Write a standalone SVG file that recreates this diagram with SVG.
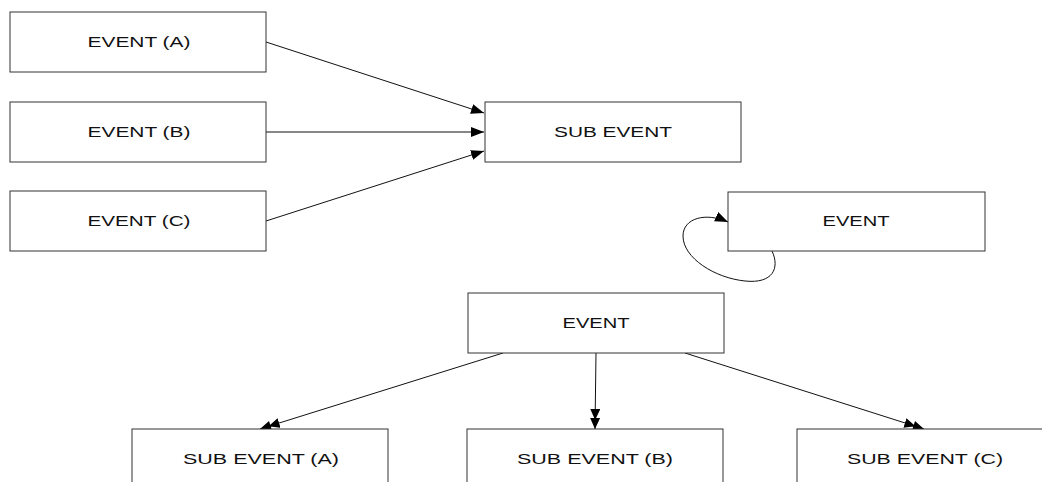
<svg xmlns="http://www.w3.org/2000/svg" width="1042" height="482" viewBox="0 0 1042 482">
  <style>
    .box { fill: #ffffff; stroke: #333333; stroke-width: 1; }
    .lbl { font-family: "Liberation Sans", Arial, sans-serif; font-size: 14px; fill: #111111; text-anchor: middle; }
    .edge { fill: none; stroke: #111111; stroke-width: 1; }
  </style>
  <defs>
    <marker id="arrow" markerUnits="userSpaceOnUse" markerWidth="16" markerHeight="12" refX="13" refY="5" orient="auto">
      <path d="M0,0 L13,5 L0,10 z" fill="#000000"/>
    </marker>
    <marker id="arrow2" markerUnits="userSpaceOnUse" markerWidth="22" markerHeight="12" refX="20" refY="5" orient="auto">
      <path d="M0,0 L11,5 L0,10 z M9,0 L20,5 L9,10 z" fill="#000000"/>
    </marker>
  </defs>

  <rect width="1042" height="482" fill="#ffffff"/>

  <g id="connectors">
    <line class="edge" x1="266" y1="42" x2="484" y2="113" marker-end="url(#arrow)"/>
    <line class="edge" x1="266" y1="132" x2="484" y2="132" marker-end="url(#arrow)"/>
    <line class="edge" x1="266" y1="221" x2="484" y2="151" marker-end="url(#arrow)"/>
    <path class="edge" d="M772,251 C780,268 773,284 745,281 C715,278 683,258 683,236 C683,218 706,212 728,222" marker-end="url(#arrow)"/>
    <line class="edge" x1="503" y1="353" x2="260" y2="429" marker-end="url(#arrow2)"/>
    <line class="edge" x1="596" y1="353" x2="595" y2="429" marker-end="url(#arrow2)"/>
    <line class="edge" x1="685" y1="353" x2="924" y2="429" marker-end="url(#arrow2)"/>
  </g>

  <g id="event-a">
    <rect class="box" x="10" y="12" width="256" height="60"/>
    <text class="lbl" x="139" y="47" textLength="103" lengthAdjust="spacingAndGlyphs">EVENT (A)</text>
  </g>
  <g id="event-b">
    <rect class="box" x="10" y="102" width="256" height="60"/>
    <text class="lbl" x="139" y="137" textLength="103" lengthAdjust="spacingAndGlyphs">EVENT (B)</text>
  </g>
  <g id="event-c">
    <rect class="box" x="10" y="191" width="256" height="60"/>
    <text class="lbl" x="139" y="226" textLength="103" lengthAdjust="spacingAndGlyphs">EVENT (C)</text>
  </g>
  <g id="sub-event">
    <rect class="box" x="485" y="102" width="256" height="60"/>
    <text class="lbl" x="613" y="137" textLength="118" lengthAdjust="spacingAndGlyphs">SUB EVENT</text>
  </g>
  <g id="event-loop">
    <rect class="box" x="728" y="192" width="257" height="59"/>
    <text class="lbl" x="856" y="226" textLength="67" lengthAdjust="spacingAndGlyphs">EVENT</text>
  </g>
  <g id="event-root">
    <rect class="box" x="468" y="293" width="256" height="60"/>
    <text class="lbl" x="596" y="328" textLength="67" lengthAdjust="spacingAndGlyphs">EVENT</text>
  </g>
  <g id="sub-event-a">
    <rect class="box" x="132" y="429" width="256" height="60"/>
    <text class="lbl" x="261" y="464" textLength="156" lengthAdjust="spacingAndGlyphs">SUB EVENT (A)</text>
  </g>
  <g id="sub-event-b">
    <rect class="box" x="467" y="429" width="256" height="60"/>
    <text class="lbl" x="595" y="464" textLength="156" lengthAdjust="spacingAndGlyphs">SUB EVENT (B)</text>
  </g>
  <g id="sub-event-c">
    <rect class="box" x="797" y="429" width="256" height="60"/>
    <text class="lbl" x="925" y="464" textLength="156" lengthAdjust="spacingAndGlyphs">SUB EVENT (C)</text>
  </g>
</svg>
